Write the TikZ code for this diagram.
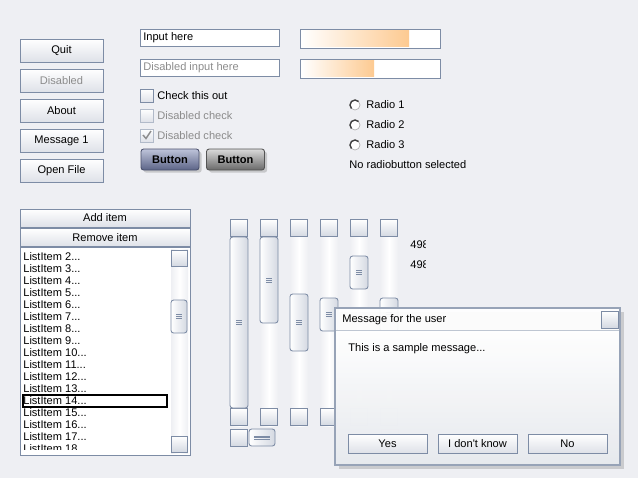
\documentclass[tikz,border=0pt]{standalone}
\usepackage{fontspec}
\setmainfont{Liberation Sans}
\usetikzlibrary{shadows}
\definecolor{bg}{RGB}{238,239,243}
\definecolor{frame}{RGB}{125,140,165}
\definecolor{btnlow}{RGB}{222,225,232}
\definecolor{sbfill}{RGB}{212,217,226}
\definecolor{grayt}{RGB}{140,140,140}
\definecolor{bar}{RGB}{253,202,145}
\definecolor{dlglow}{RGB}{228,231,236}
\definecolor{bluetop}{RGB}{190,196,218}
\definecolor{bluelow}{RGB}{92,100,135}
\definecolor{graytop}{RGB}{218,218,218}
\definecolor{graylow}{RGB}{105,105,105}
\begin{document}
\begin{tikzpicture}[x=0.02cm,y=-0.02cm,font=\fontsize{6.3}{7.5}\selectfont,
  wh/.style 2 args={minimum width=#1*0.02cm, minimum height=#2*0.02cm, inner sep=0pt, outer sep=0pt},
  btn/.style={draw=frame, line width=0.5pt, top color=white, bottom color=btnlow},
  field/.style={draw=frame, line width=0.5pt, fill=white},
  sbtn/.style={draw=frame, line width=0.5pt, top color=white, bottom color=sbfill, wh={17}{17}},
  thumb/.style={draw=frame, line width=0.5pt, rounded corners=1.5pt, left color=white, right color=sbfill},
  track/.style={left color=bg, right color=bg, middle color=white},
  grip/.style={frame, line width=0.4pt},
  gbtn/.style={rounded corners=1.5pt, wh={58}{21}, line width=0.5pt, font=\fontsize{6.3}{7.5}\selectfont\bfseries,
    drop shadow={opacity=0.35, shadow xshift=1.5pt, shadow yshift=-1.5pt}},
  grey/.style={text=grayt},
  lbl/.style={anchor=west, inner sep=0pt}]
\useasboundingbox[fill=bg] (0,0) rectangle (638,478);

% left column
\node[btn, wh={83}{23}] (quit) at (61.5,50.5) {Quit};
\node[btn, wh={83}{23}, grey] (dis) at (61.5,80.5) {Disabled};
\node[btn, wh={83}{23}] (about) at (61.5,110.5) {About};
\node[btn, wh={83}{23}] (msg) at (61.5,140.5) {Message 1};
\node[btn, wh={83}{23}] (open) at (61.5,170.5) {Open File};

% inputs and checks
\node[field, wh={139}{17}] (inp) at (209.5,37.5) {};
\node[lbl] (inptxt) at (143,37.5) {Input here};
\node[field, wh={139}{17}] (inpd) at (209.5,67.5) {};
\node[lbl, grey] (inpdtxt) at (143,67.5) {Disabled input here};
\node[btn, wh={13}{13}] (chk1) at (146.5,95.5) {};
\node[lbl] (chk1txt) at (157,95.5) {Check this out};
\node[btn, wh={13}{13}, draw=frame!60] (chk2) at (146.5,115.5) {};
\node[lbl, grey] (chk2txt) at (157,115.5) {Disabled check};
\node[btn, wh={13}{13}, draw=frame!60] (chk3) at (146.5,135.5) {};
\node[lbl, grey] (chk3txt) at (157,135.5) {Disabled check};
\draw[grayt, line width=0.8pt] (143,135) -- (146,138.5) -- (151,131);
\node[gbtn, draw=bluelow!80!black, top color=bluetop, bottom color=bluelow] (fancy1) at (170,159.5) {Button};
\node[gbtn, draw=graylow!80!black, top color=graytop, bottom color=graylow] (fancy2) at (235.5,159.5) {Button};

% progress and radios
\node[field, wh={140}{19}] (bar1) at (370,38.5) {};
\shade[left color=white, right color=bar] (301.5,30.5) rectangle (409,46.5);
\node[field, wh={140}{19}] (bar2) at (370,68.5) {};
\shade[left color=white, right color=bar] (301.5,60.5) rectangle (374,76.5);
\foreach \r in {1,2,3}{
  \node[circle, draw=gray!60, fill=white, wh={10}{10}] (rad\r) at (355,{85+20*\r}) {};
  \draw[black!75, line width=0.8pt] (rad\r.45) arc[start angle=45, end angle=225, radius=0.1cm];
  \node[lbl] (rad\r txt) at (366,{85+20*\r}) {Radio \r};
}
\node[lbl] (radsel) at (349,165) {No radiobutton selected};

% list
\node[btn, wh={170}{18}] (add) at (105,218) {Add item};
\node[btn, wh={170}{18}] (rem) at (105,237.5) {Remove item};
\node[field, wh={170}{208}] (list) at (105,351) {};
\begin{scope}
\clip (21,249) rectangle (170,449.5);
\foreach \k in {2,...,18}
  \node[lbl] (item\k) at (23,{256.5+12*(\k-2)}) {ListItem \k...};
\end{scope}
\draw[black, line width=0.6pt] (23,395) rectangle (167,407);
\path[track] (171,249) rectangle (188,453);
\node[sbtn, wh={16}{16}] (lup) at (179,258) {};
\node[sbtn, wh={16}{16}] (ldn) at (179,444) {};
\draw[thumb] (171,300) rectangle (187,333);
\foreach \g in {-2,0,2} \draw[grip] (176,316.5+\g) -- (182,316.5+\g);

% scrollbars
\foreach \sx/\ta/\tb [count=\i] in {230/237/408, 260/237/323, 290/294/351, 320/298/331, 350/256/289, 380/298/331}{
  \path[track] (\sx,219) rectangle (\sx+18,426);
  \node[sbtn] (up\i) at (\sx+9,228) {};
  \node[sbtn] (dn\i) at (\sx+9,417) {};
  \draw[thumb] (\sx,\ta) rectangle (\sx+18,\tb);
  \foreach \g in {-2,0,2} \draw[grip] (\sx+6,{(\ta+\tb)/2+\g}) -- (\sx+12,{(\ta+\tb)/2+\g});
}
\node[sbtn] (hl) at (238.5,437.5) {};
\draw[thumb] (249,429) rectangle (275,446);
\foreach \g in {-1.5,0,1.5} \draw[grip] (254,437.5+\g) -- (270,437.5+\g);
\node[sbtn] (hr) at (389.5,437.5) {};
\begin{scope}
\clip (405,230) rectangle (425,275);
\node[lbl] (val1) at (410,245) {498};
\node[lbl] (val2) at (410,265) {498};
\end{scope}

% dialog
\fill[black, opacity=0.15] (339,312) rectangle (624,469);
\path[fill=white, fill opacity=0.93] (335,308) rectangle (620,465);
\shade[top color=white, bottom color=dlglow, fill opacity=0.88] (335,330) rectangle (620,465);
\draw[frame!80, line width=1.4pt] (335,308) rectangle (620,465);
\draw[frame!50, line width=0.5pt] (336,330) -- (619,330);
\node[lbl] (dlgtitle) at (342,320) {Message for the user};
\node[sbtn] (dlgclose) at (609.5,319.5) {};
\node[lbl] (dlgtext) at (348,348.5) {This is a sample message...};
\node[btn, wh={79}{19}] (yes) at (387.5,443.5) {Yes};
\node[btn, wh={79}{19}] (idk) at (477.5,443.5) {I don\textquotesingle t know};
\node[btn, wh={79}{19}] (no) at (567.5,443.5) {No};
\end{tikzpicture}
\end{document}
